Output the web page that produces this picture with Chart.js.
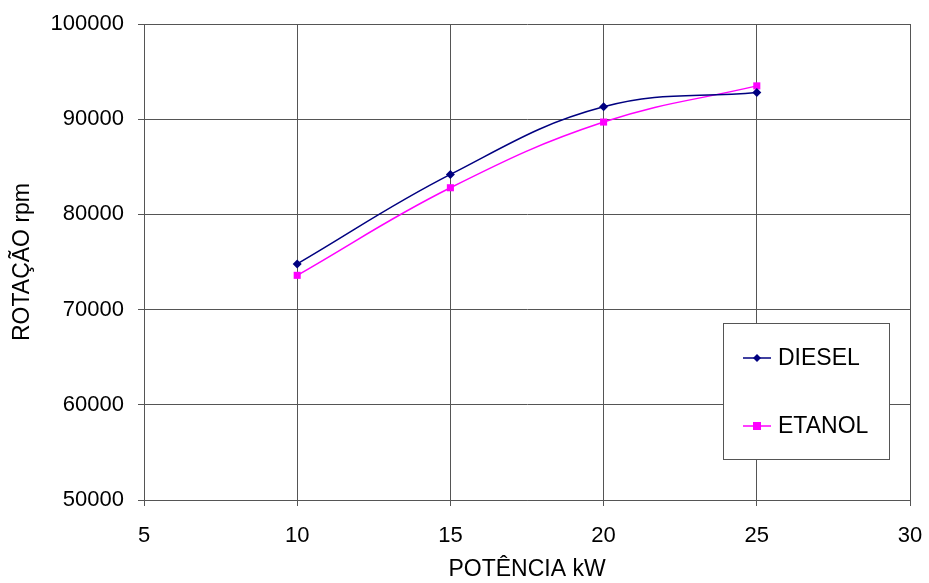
<!DOCTYPE html>
<html>
<head>
<meta charset="utf-8">
<script src="https://cdn.jsdelivr.net/npm/chart.js@4.4.1/dist/chart.umd.min.js"></script>
<style>
  html, body { margin: 0; padding: 0; background: #ffffff; }
  #wrap { width: 929px; height: 583px; }
</style>
</head>
<body>
<div id="wrap"><canvas id="rpmChart" width="929" height="583"></canvas></div>
<script>
/* ===============================
   DATA
=============================== */

const potencia = [10, 15, 20, 25];

const dieselRpm = [74800, 84200, 91300, 92800];

const etanolRpm = [73600, 82800, 89700, 93500];

const xTicks = [5, 10, 15, 20, 25, 30];

const yTicks = [50000, 60000, 70000, 80000, 90000, 100000];

const FONT = "'Liberation Sans', Arial, sans-serif";

/* ===============================
   LEGEND BOX (drawn inside plot)
=============================== */

const legendBox = {
    id: "legendBox",
    afterDraw(chart) {
        const ctx = chart.ctx;
        const x0 = 723, y0 = 323, w = 166, h = 136;
        ctx.save();
        ctx.fillStyle = "#ffffff";
        ctx.fillRect(x0, y0, w, h);
        ctx.strokeStyle = "#555555";
        ctx.lineWidth = 1;
        ctx.strokeRect(x0 + 0.5, y0 + 0.5, w, h);

        const rows = [358, 426];
        chart.data.datasets.forEach((ds, i) => {
            const y = rows[i];
            ctx.strokeStyle = ds.borderColor;
            ctx.lineWidth = 1.5;
            ctx.beginPath();
            ctx.moveTo(743, y);
            ctx.lineTo(771, y);
            ctx.stroke();
            ctx.fillStyle = ds.backgroundColor;
            if (ds.pointStyle === "rectRot") {
                ctx.beginPath();
                ctx.moveTo(757, y - 4);
                ctx.lineTo(761, y);
                ctx.lineTo(757, y + 4);
                ctx.lineTo(753, y);
                ctx.closePath();
                ctx.fill();
            } else {
                ctx.fillRect(753, y - 4, 8, 8);
            }
            ctx.fillStyle = "#000000";
            ctx.font = "23px " + FONT;
            ctx.textBaseline = "middle";
            ctx.textAlign = "left";
            ctx.fillText(ds.label, 778, y + 1);
        });
        ctx.restore();
    }
};

/* ===============================
   CHART
=============================== */

const canvas = document.getElementById("rpmChart");

new Chart(canvas, {

    type: "line",

    data: {

        datasets: [

            {
                label: "DIESEL",
                data: potencia.map((p, i) => ({ x: p, y: dieselRpm[i] })),
                borderColor: "#000080",
                backgroundColor: "#000080",
                borderWidth: 1.5,
                pointStyle: "rectRot",
                pointRadius: 4.5,
                pointBorderWidth: 0,
                tension: 0.4,
                fill: false
            },

            {
                label: "ETANOL",
                data: potencia.map((p, i) => ({ x: p, y: etanolRpm[i] })),
                borderColor: "#ff00ff",
                backgroundColor: "#ff00ff",
                borderWidth: 1.5,
                pointStyle: "rect",
                pointRadius: 5,
                pointBorderWidth: 0,
                tension: 0.4,
                fill: false
            }

        ]

    },

    options: {

        responsive: false,
        animation: false,
        devicePixelRatio: 1,

        layout: {
            padding: { top: 24, right: 19, left: 0, bottom: 0 }
        },

        plugins: {
            legend: { display: false },
            tooltip: { enabled: false }
        },

        scales: {

            x: {
                type: "linear",
                min: 5,
                max: 30,
                afterBuildTicks: scale => {
                    scale.ticks = xTicks.map(v => ({ value: v }));
                },
                afterFit: scale => {
                    scale.height = 83;
                    scale.paddingLeft = 0;
                    scale.paddingRight = 0;
                },
                ticks: {
                    color: "#000000",
                    font: { family: FONT, size: 22 },
                    padding: 17,
                    maxRotation: 0,
                    callback: v => String(v)
                },
                grid: {
                    color: "#555555",
                    lineWidth: 1,
                    tickLength: 6
                },
                border: { color: "#555555" },
                title: {
                    display: true,
                    text: "POTÊNCIA kW",
                    color: "#000000",
                    font: { family: FONT, size: 23 },
                    padding: { top: 0, bottom: 0 }
                }
            },

            y: {
                min: 50000,
                max: 100000,
                afterBuildTicks: scale => {
                    scale.ticks = yTicks.map(v => ({ value: v }));
                },
                afterFit: scale => {
                    scale.width = 144;
                    scale.paddingTop = 0;
                    scale.paddingBottom = 0;
                },
                ticks: {
                    color: "#000000",
                    font: { family: FONT, size: 22 },
                    padding: 14,
                    callback: v => String(v)
                },
                grid: {
                    color: "#555555",
                    lineWidth: 1,
                    tickLength: 6
                },
                border: { color: "#555555" },
                title: {
                    display: true,
                    text: "ROTAÇÃO rpm",
                    color: "#000000",
                    font: { family: FONT, size: 23 },
                    padding: { top: 9, bottom: 0 }
                }
            }

        }

    },

    plugins: [legendBox]

});
</script>
</body>
</html>
